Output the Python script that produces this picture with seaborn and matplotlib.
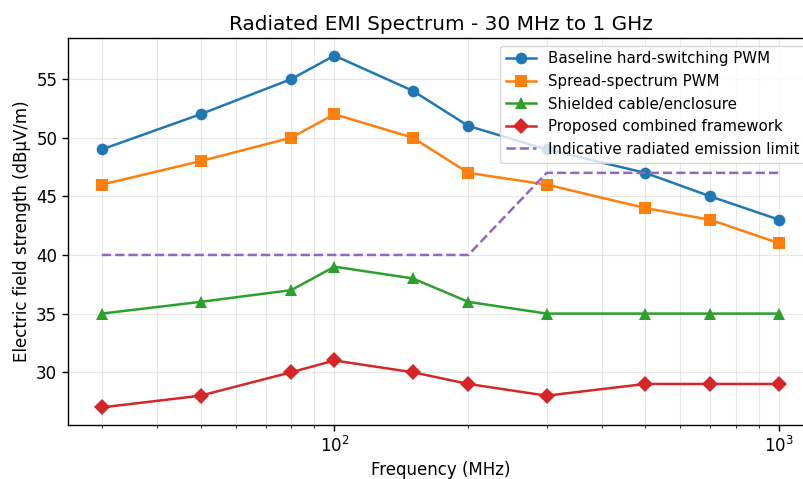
import matplotlib
matplotlib.use("Agg")
import matplotlib.pyplot as plt
import seaborn as sns
import pandas as pd

freqs = [30, 50, 80, 100, 150, 200, 300, 500, 700, 1000]
baseline = [49, 52, 55, 57, 54, 51, 49, 47, 45, 43]
spread = [46, 48, 50, 52, 50, 47, 46, 44, 43, 41]
shielded = [35, 36, 37, 39, 38, 36, 35, 35, 35, 35]
proposed = [27, 28, 30, 31, 30, 29, 28, 29, 29, 29]
limit_freqs = [30, 200, 300, 1000]
limit_vals = [40, 40, 47, 47]

series = [
    ("Baseline hard-switching PWM", baseline, "#1f77b4", "o"),
    ("Spread-spectrum PWM", spread, "#ff7f0e", "s"),
    ("Shielded cable/enclosure", shielded, "#2ca02c", "^"),
    ("Proposed combined framework", proposed, "#d62728", "D"),
]

fig = plt.figure(figsize=(8.04, 4.79), dpi=100)
ax = fig.add_axes([68/804, 1-425/479, (813-68)/804, (425-38)/479])

for name, vals, color, mk in series:
    df = pd.DataFrame({"f": freqs, "v": vals})
    sns.lineplot(data=df, x="f", y="v", ax=ax, color=color, marker=mk,
                 markersize=8.4, markeredgewidth=0, linewidth=1.8, label=name)

dfl = pd.DataFrame({"f": limit_freqs, "v": limit_vals})
sns.lineplot(data=dfl, x="f", y="v", ax=ax, color="#9467bd", linestyle="--",
             linewidth=1.8, label="Indicative radiated emission limit")

ax.set_xscale("log")
ax.grid(True, which="both", alpha=0.3)
ax.set_title("Radiated EMI Spectrum - 30 MHz to 1 GHz", fontsize=14.4)
ax.set_xlabel("Frequency (MHz)", fontsize=12)
ax.set_ylabel("Electric field strength (dBµV/m)", fontsize=12)
ax.tick_params(labelsize=12, length=4.2, width=1)
ax.legend(loc="upper right", fontsize=10.8)
for s in ax.spines.values():
    s.set_linewidth(1.0)

fig.savefig("out.png", dpi=100)
